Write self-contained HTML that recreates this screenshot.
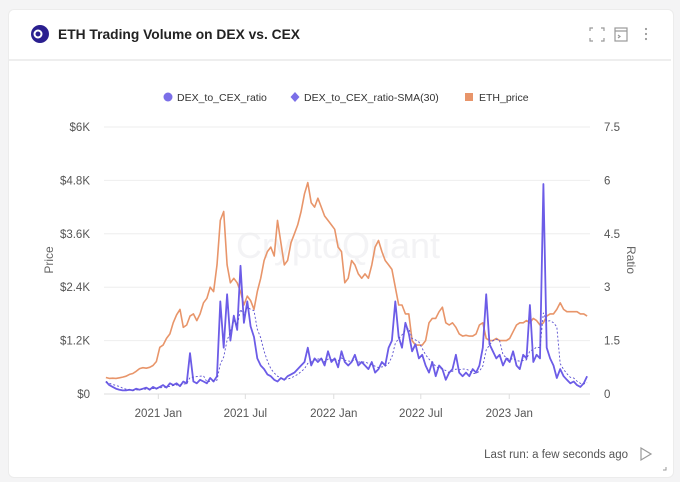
<!DOCTYPE html>
<html><head><meta charset="utf-8">
<style>
body{margin:0;width:680px;height:482px;background:#f4f4f5;font-family:"Liberation Sans",sans-serif;overflow:hidden}
#card{position:absolute;left:8px;top:9px;width:664px;height:467px;background:#fff;border-radius:6px;border:1px solid #ececec}
</style></head><body>
<div id="card"></div>
<svg id="svg" width="680" height="482" style="position:absolute;left:0;top:0" font-family="Liberation Sans, sans-serif">
  <circle cx="40" cy="34" r="9" fill="#2a1f8f"/>
  <circle cx="38" cy="34" r="3.5" fill="none" stroke="#fff" stroke-width="2"/>
  <text x="58" y="39" font-size="13.8" fill="#222" font-weight="bold">ETH Trading Volume on DEX vs. CEX</text>
  <g stroke="#999" stroke-width="1.2" fill="none">
    <path d="M590 31v-3h3M601 28h3v3M604 38v3h-3M593 41h-3v-3"/></g>
  <g stroke="#999" stroke-width="1.2" fill="none">
    <rect x="615" y="28" width="12" height="13"/><path d="M615 31h12M618 35l2 1.5-2 1.5"/></g>
  <g fill="#999">
    <circle cx="646" cy="29" r="1.1"/><circle cx="646" cy="34" r="1.1"/><circle cx="646" cy="39" r="1.1"/></g>
  <line x1="9" y1="60" x2="671" y2="60" stroke="#eee" stroke-width="2"/>
  <g font-size="10.5" fill="#333">
    <g><circle cx="168" cy="97" r="4.5" fill="#7b6fe8"/><text x="177" y="101">DEX_to_CEX_ratio</text></g>
    <g><path d="M295 92l4.5 5-4.5 5-4.5-5z" fill="#7b6fe8"/><text x="304" y="101">DEX_to_CEX_ratio-SMA(30)</text></g>
    <g><rect x="465" y="93" width="8" height="8" fill="#e8956a"/><text x="479" y="101">ETH_price</text></g>
  </g>
  <text x="338" y="258" font-size="36" fill="#f3f3f5" text-anchor="middle">CryptoQuant</text>
  <g id="grid"></g><g id="marks"></g>
  <text transform="translate(53,260) rotate(-90)" font-size="12" fill="#666" text-anchor="middle">Price</text>
  <text transform="translate(627,260) rotate(90)" font-size="12" fill="#666" text-anchor="middle">Ratio</text>
  <text x="628" y="458" font-size="11.5" fill="#555" text-anchor="end">Last run: a few seconds ago</text>
  <path d="M641 448l10 6-10 6z" fill="none" stroke="#999" stroke-width="1.2"/>
  <path d="M666 467v3h-3" fill="none" stroke="#999"/>
</svg>
<script>
const priceTicks=[0,1200,2400,3600,4800,6000];
const priceTickLabels=["$0","$1.2K","$2.4K","$3.6K","$4.8K","$6K"];
const ratioTicks=[0,1.5,3,4.5,6,7.5];
const ratioTickLabels=["0","1.5","3","4.5","6","7.5"];
const xTickDates=["2021-01-01","2021-07-01","2022-01-01","2022-07-01","2023-01-01"];
const xTickLabels=["2021 Jan","2021 Jul","2022 Jan","2022 Jul","2023 Jan"];
const startDate="2020-09-14";
const ethPrice=[370,350,355, 350,365,380,400, 440,460,510,570, 590,580,600,640,730,
1050,1100,1250,1350, 1600,1780,1900,1500, 1550,1750,1800,1650,1800, 2050,2150,2400,2300,
2900,3900,4100,2900,2500, 2600,2500,2300,2000, 2200,2100,1900,2300, 2600,3000,3200,3300,3100,
3900,3400,2900,3000, 3400,3600,3800,4100, 4500,4750,4300,4200,4400, 4200,4000,3900,3800,
3700,3300,3200,2500,2600, 3000,2900,2700,2600, 2700,2600,2900,3300, 3450,3200,3000,2900,
2800,2400,2000,2000,1800, 1800,1200,1100,1100, 1100,1200,1600,1700, 1700,1850,1950,1600,1550,
1600,1500,1350,1300, 1320,1300,1300,1350,1550, 1600,1250,1200,1200, 1250,1200,1200,1200,
1250,1400,1550,1600,1600, 1650,1600,1700,1650, 1550,1600,1750,1800, 1800,1900,2050,1900,1850,
1850,1850,1850,1800, 1800,1750];
const dexRatio=[0.35,0.25,0.2, 0.15,0.12,0.1,0.1, 0.12,0.1,0.15,0.12, 0.15,0.18,0.12,0.2,0.15,
0.2,0.25,0.18,0.3, 0.25,0.3,0.22,0.35, 0.3,1.15,0.35,0.3,0.4, 0.35,0.3,0.45,0.35,
0.5,2.6,1.3,2.8,1.5, 2.2,1.8,3.6,2.0, 2.6,1.9,1.6,1.0, 0.8,0.7,0.55,0.5,0.4,
0.35,0.45,0.4,0.5, 0.55,0.6,0.7,0.8, 0.9,1.3,0.8,1.0,0.9, 1.0,0.8,1.2,0.9,
1.0,0.75,1.2,0.9,0.8, 0.9,1.1,0.8,0.9, 0.8,0.7,0.9,0.6, 0.7,0.9,0.8,1.3,
1.5,2.6,1.6,1.3,2.0, 1.7,1.2,1.4,1.0, 1.1,0.8,0.6,0.9, 0.5,0.8,0.7,0.4,0.6,
0.7,1.1,0.6,0.5, 0.6,0.5,0.7,0.6,0.8, 1.3,2.8,1.4,1.2, 1.0,1.1,0.8,1.0,
0.9,1.2,0.8,0.7,1.1, 1.0,2.5,0.9,1.1, 1.0,5.9,1.3,1.0, 0.8,0.45,0.7,0.5,0.4,
0.3,0.35,0.25,0.2, 0.3,0.5];

const NS="http://www.w3.org/2000/svg";
const X0=104,X1=590,Y0=394,Y1=127;
const d0=Date.parse("2020-09-10"),d1=Date.parse("2023-06-18");
const xs=t=>X0+(t-d0)/(d1-d0)*(X1-X0);
const yp=v=>Y0-v/6000*(Y0-Y1);
const yr=v=>Y0-v/7.5*(Y0-Y1);
const dayMs=86400000,s0=Date.parse(startDate);
const xi=i=>xs(s0+i*7*dayMs);
function mk(tag,attrs,parent){const e=document.createElementNS(NS,tag);for(const k in attrs)e.setAttribute(k,attrs[k]);parent.appendChild(e);return e;}
const grid=document.getElementById('grid'),marks=document.getElementById('marks');
priceTicks.forEach((v,i)=>{
  const l=mk('line',{x1:X0,x2:X1,y1:yp(v),y2:yp(v),stroke:i==0?'#ddd':'#eee'},grid);
  
  
  const t=mk('text',{x:90,y:yp(v)+4,'font-size':11.5,fill:'#555','text-anchor':'end'},grid);
  t.textContent=priceTickLabels[i];
  
  
});
ratioTicks.forEach((v,i)=>{
  const t=mk('text',{x:604,y:yr(v)+4,'font-size':11.5,fill:'#555','text-anchor':'start'},grid);
  t.textContent=ratioTickLabels[i];
  
  
});
xTickDates.forEach((d,i)=>{
  const x=xs(Date.parse(d));
  const l=mk('line',{x1:x,x2:x,y1:Y0,y2:Y0+5,stroke:'#ddd'},grid);
  
  
  const t=mk('text',{x:x,y:417,'font-size':11.5,fill:'#555','text-anchor':'middle'},grid);
  t.textContent=xTickLabels[i];
  
  
});
const pts=(arr,f)=>arr.map((v,i)=>xi(i).toFixed(1)+','+f(v).toFixed(1)).join(' ');
const pl=mk('polyline',{points:pts(ethPrice,yp),fill:'none',stroke:'#e8956a','stroke-width':1.6,'stroke-linejoin':'round'},marks);


const rl=mk('polyline',{points:pts(dexRatio,yr),fill:'none',stroke:'#6c5ce7','stroke-width':1.8,'stroke-linejoin':'round'},marks);


const sma=dexRatio.map((v,i)=>{const s=dexRatio.slice(Math.max(0,i-4),i+1);return s.reduce((a,b)=>a+b,0)/s.length;});
const sl=mk('polyline',{points:pts(sma,yr),fill:'none',stroke:'#5a4fd0','stroke-width':0.9,'stroke-dasharray':'2,2'},marks);


</script>
</body></html>
